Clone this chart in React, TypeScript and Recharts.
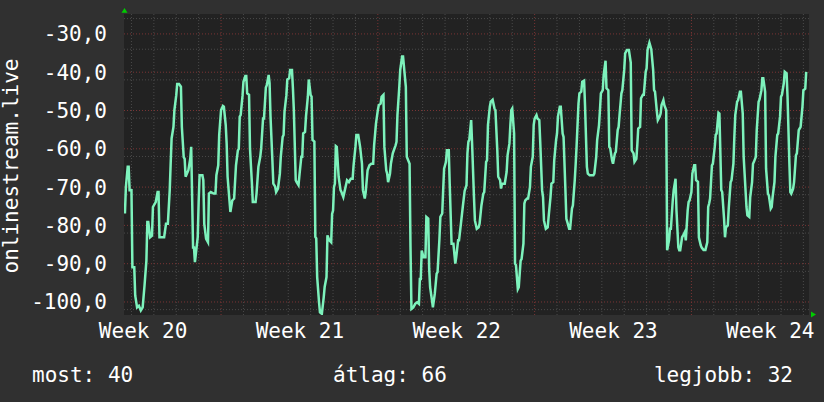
import { CartesianGrid, Line, LineChart, XAxis, YAxis } from "recharts";

// [hours since start, signal]
const samples: [number, number][] = [
  [1,-76.9],[2,-70],[4,-64.7],[5,-64.7],[6,-70.8],[8,-70.8],[9,-90.9],[11,-90.9],[12,-98.3],[14,-101.4],[16,-101],[18,-102.2],[20,-101.4],[22,-95.7],[24,-89.2],[25,-79.1],[26,-79.1],[28,-83.1],[30,-82.7],[31,-75.2],[34,-73.9],[36,-71.3],[37,-71.3],[38,-83.1],[43,-83.1],[45,-79.6],[47,-79.6],[49,-70.8],[50,-63.9],[51,-57.3],[53,-54.3],[54,-49.9],[56,-46],[57,-43.1],[59,-43.1],[61,-43.8],[62,-54.3],[64,-62.2],[65,-62.6],[66,-67.3],[69,-65.6],[71,-62.6],[72,-59.5],[74,-85.8],[75,-85.8],[76,-89.6],[79,-83.1],[80,-73.9],[81,-66.9],[84,-66.9],[85,-68.2],[86,-79.6],[88,-83.5],[90,-84.4],[91,-71.7],[93,-71.3],[96,-71.7],[98,-71.7],[99,-66.9],[101,-64.3],[102,-56.4],[104,-49.9],[106,-48.8],[107,-49],[109,-53.8],[110,-58.6],[111,-67.3],[113,-73.5],[114,-76.5],[116,-73.5],[118,-73],[120,-64.3],[122,-60.4],[123,-60],[124,-51.6],[125,-51.2],[127,-46.2],[128,-42.5],[130,-41],[131,-41],[132,-45.5],[134,-45.9],[135,-59.9],[137,-68.7],[138,-73.9],[141,-73.9],[142,-71.7],[144,-64.7],[146,-62.1],[147,-59.9],[149,-52.1],[150,-52.1],[152,-44],[153,-43.4],[155,-40.7],[156,-42.9],[157,-51.6],[159,-63],[160,-69.1],[162,-69.9],[163,-71.3],[165,-70.4],[167,-66.5],[168,-62.1],[170,-56.9],[171,-56.4],[172,-50.3],[174,-46],[175,-41.9],[177,-41.6],[178,-39.4],[180,-39.4],[181,-44.2],[182,-49.9],[184,-68.2],[185,-68.7],[187,-69.5],[188,-66.9],[190,-62.1],[191,-62.1],[192,-56],[194,-55.6],[195,-51.6],[197,-46.4],[198,-41.9],[200,-46],[201,-46.4],[202,-57.7],[204,-58.1],[205,-83],[206,-83.4],[207,-93.5],[209,-100.1],[210,-102.7],[212,-103.1],[214,-98.8],[215,-96.1],[217,-93.5],[218,-82.6],[220,-83.9],[222,-84.4],[223,-77],[224,-76.1],[225,-70],[226,-69.1],[227,-59.3],[228,-59.5],[230,-67.3],[232,-70.8],[233,-71.3],[235,-72.6],[237,-70.4],[239,-68.2],[241,-68.7],[243,-67.8],[245,-67.8],[246,-64.3],[248,-59.5],[249,-56.4],[251,-56.4],[253,-59.5],[255,-63.9],[256,-70.8],[258,-73],[259,-71.3],[261,-65.6],[263,-64.3],[265,-63.9],[267,-63.9],[268,-59.1],[270,-53.4],[272,-49.9],[273,-48.6],[275,-48.2],[276,-46.4],[278,-45.9],[279,-59.5],[281,-65.6],[282,-66.5],[283,-68.7],[285,-66.5],[286,-63.9],[288,-61.2],[291,-59.1],[292,-58.2],[293,-51.2],[295,-43.8],[296,-39.4],[298,-35.9],[299,-35.9],[301,-41.2],[302,-43.8],[303,-62.1],[306,-63.9],[307,-85.7],[308,-101.8],[310,-101.4],[312,-100.5],[314,-100.1],[316,-100.5],[317,-94],[318,-94],[319,-86.6],[321,-88.3],[323,-88.3],[324,-77.8],[326,-78.2],[327,-91.3],[328,-96.1],[330,-99.6],[331,-101.4],[333,-97.9],[335,-92.6],[336,-92.2],[338,-83.5],[339,-77.8],[341,-76.9],[342,-70.8],[343,-65.2],[345,-63.4],[346,-60.4],[348,-60.4],[349,-69.1],[351,-84.8],[353,-84.8],[355,-90],[356,-88.3],[358,-83.9],[359,-83.9],[361,-79.6],[363,-75.2],[365,-71],[367,-69.5],[368,-61.2],[369,-58.2],[370,-57.7],[372,-52.5],[373,-58.6],[375,-72.6],[376,-78.7],[378,-80.9],[380,-80.5],[381,-79.6],[383,-74.8],[385,-71.7],[386,-71.3],[388,-63.4],[389,-63],[390,-53.8],[392,-49],[393,-47.7],[395,-47.2],[397,-49.5],[398,-49.9],[400,-60.4],[401,-67.3],[403,-68.2],[404,-70.4],[405,-69.1],[408,-69.1],[410,-66],[411,-61.7],[413,-58.6],[414,-53.8],[415,-49.9],[416,-49.5],[418,-56],[419,-90],[420,-90.4],[422,-96.6],[423,-96.1],[425,-89.2],[426,-88.8],[428,-84.8],[429,-74.3],[430,-73.5],[432,-73],[433,-73],[435,-70],[436,-64.7],[438,-62.1],[439,-53.8],[440,-52.1],[442,-51.2],[443,-52.1],[445,-52.5],[446,-58.2],[448,-70.8],[449,-72.6],[450,-78.7],[452,-80.9],[454,-80.5],[455,-77.8],[457,-72.6],[458,-69.1],[460,-68.7],[461,-63],[463,-57.7],[464,-56],[465,-51.6],[467,-49],[468,-49],[470,-56],[471,-56.9],[473,-70.8],[474,-78.3],[475,-79.1],[477,-80.9],[478,-80.9],[480,-75.6],[481,-74.8],[483,-68.2],[484,-63.9],[485,-59.1],[487,-48.2],[488,-45.5],[490,-45.1],[491,-42.5],[493,-42.2],[494,-48.6],[496,-64.7],[497,-66.5],[499,-66.9],[501,-66.9],[503,-66.9],[504,-66.5],[506,-62.1],[507,-57.7],[509,-53.8],[510,-49.9],[511,-45.5],[513,-44.7],[514,-40.7],[516,-37],[517,-44.2],[519,-44.7],[520,-59.5],[521,-59.9],[523,-63],[524,-63.9],[526,-61.2],[527,-60.8],[529,-55.1],[530,-54.3],[531,-51.2],[533,-45.5],[534,-44.7],[536,-39.4],[537,-35.1],[539,-34.2],[541,-34.2],[543,-37.5],[544,-60.4],[546,-61.2],[547,-63.4],[549,-62.6],[550,-59.1],[551,-54.7],[553,-54.3],[554,-46.8],[556,-45.9],[557,-45.9],[559,-39.9],[560,-39],[561,-34.2],[563,-32.3],[565,-34],[567,-39.4],[568,-44.7],[569,-45.1],[571,-50.3],[572,-52.5],[574,-51.6],[575,-50.8],[576,-48.6],[578,-47.3],[579,-48.6],[581,-49.9],[582,-86.5],[584,-83.9],[585,-80.9],[586,-80.9],[588,-73.5],[589,-70.8],[591,-67.8],[592,-76.1],[594,-85.7],[595,-86.5],[596,-86.5],[598,-83.1],[599,-82.7],[601,-81.7],[602,-83.9],[604,-76.1],[605,-73.9],[606,-73.5],[608,-71.3],[609,-66.5],[611,-64.3],[612,-64.3],[613,-68.2],[615,-68.6],[616,-83.1],[618,-85.2],[619,-85.8],[621,-86.4],[623,-86.4],[625,-84.4],[626,-75.2],[627,-74.3],[628,-73],[630,-64.3],[631,-63.9],[633,-59.5],[634,-56.4],[635,-56],[637,-50.6],[638,-50.8],[640,-70.8],[641,-71.3],[643,-78.3],[644,-83.1],[645,-80.5],[647,-80],[648,-75.6],[650,-68.7],[651,-68.2],[653,-63.9],[654,-56.9],[655,-51.2],[657,-47.7],[658,-47.3],[660,-45.1],[661,-45.1],[663,-50.8],[664,-62.1],[665,-66.5],[667,-75.2],[668,-77.4],[670,-77.8],[671,-72.6],[673,-68.7],[674,-63.9],[675,-63.4],[677,-62.1],[678,-55.1],[680,-47.7],[681,-47.1],[683,-44.7],[684,-41.6],[685,-41.6],[687,-45.1],[688,-65.2],[690,-71.7],[691,-72.2],[693,-75.6],[694,-75.2],[695,-72.6],[697,-68.7],[698,-62.1],[700,-56.4],[701,-56],[703,-51.6],[704,-46.4],[705,-45.9],[707,-42.9],[708,-39.9],[710,-40.3],[711,-46.4],[713,-63.9],[714,-71.3],[715,-71.7],[717,-70.4],[718,-68.7],[720,-61.7],[721,-61.2],[723,-55.1],[724,-54.7],[725,-54.3],[727,-49],[728,-44.7],[730,-44.3],[731,-39.9],
];

const weekTicks = [20.5, 188.5, 356.5, 524.5, 692.5];
const weekLabels = ["Week 20", "Week 21", "Week 22", "Week 23", "Week 24"];
const weekLines = [104, 272, 440, 608];
const dayLines = [8, 32, 56, 80, 128, 152, 176, 200, 224, 248, 296, 320, 344, 368, 392, 416, 464, 488, 512, 536, 560, 584, 632, 656, 680, 704, 728];
const yTicks = [-100, -90, -80, -70, -60, -50, -40, -30];
const yMinor = [-102, -98, -96, -94, -92, -88, -86, -84, -82, -78, -76, -74, -72, -68, -66, -64, -62, -58, -56, -54, -52, -48, -46, -44, -42, -38, -36, -34, -32, -28, -26];
const legendItems = [
  { label: "most", value: 40 },
  { label: "átlag", value: 66 },
  { label: "legjobb", value: 32 },
];
const seriesName = "onlinestream.live";

const data = samples.map(([h, v]) => ({ h, v }));
const font = "'DejaVu Sans Mono', monospace";
const tickStyle = { fill: "#ffffff", fontSize: 21, fontFamily: font };

export default function App() {
  return (
    <div style={{ position: "absolute", left: 0, top: 0, width: 824, height: 402, background: "#303030", fontFamily: font, color: "#fff" }}>
      <LineChart width={824} height={402} data={data} margin={{ top: 14, right: 15, bottom: 57, left: 0 }}>
        <CartesianGrid fill="#222222" stroke="#4a4a4a" strokeDasharray="1 2" horizontalValues={yMinor} verticalValues={dayLines} />
        <CartesianGrid stroke="#7a3434" strokeDasharray="1 2" horizontalValues={yTicks} verticalValues={weekLines} />
        <XAxis
          dataKey="h"
          type="number"
          domain={[0, 734]}
          ticks={weekTicks}
          tickFormatter={(v: number) => weekLabels[weekTicks.indexOf(v)]}
          tick={tickStyle}
          tickSize={0}
          tickMargin={8}
          axisLine={false}
          height={30}
          allowDataOverflow
        />
        <YAxis
          type="number"
          domain={[-103.4, -24.8]}
          ticks={yTicks}
          tickFormatter={(v: number) => v.toFixed(1).replace(".", ",")}
          tick={tickStyle}
          tickSize={0}
          tickMargin={17}
          axisLine={false}
          width={124}
          allowDataOverflow
        />
        <Line dataKey="v" type="linear" stroke="#7df2bc" strokeWidth={2.5} dot={false} isAnimationActive={false} />
      </LineChart>
      <svg width={824} height={402} style={{ position: "absolute", left: 0, top: 0, pointerEvents: "none" }}>
        <text transform="translate(18,166) rotate(-90)" textAnchor="middle" fill="#fff" fontSize={21} fontFamily={font}>
          {seriesName}
        </text>
        <polygon points="121.5,12.7 127.5,12.7 124.5,8" fill="#00cc00" />
        <polygon points="811,311.5 811,317.5 816,314.5" fill="#00cc00" />
      </svg>
      <div style={{ position: "absolute", top: 362, left: 32, fontSize: 21, lineHeight: "26px" }}>
        {legendItems[0].label}: {legendItems[0].value}
      </div>
      <div style={{ position: "absolute", top: 362, left: 333, fontSize: 21, lineHeight: "26px" }}>
        {legendItems[1].label}: {legendItems[1].value}
      </div>
      <div style={{ position: "absolute", top: 362, right: 31, fontSize: 21, lineHeight: "26px" }}>
        {legendItems[2].label}: {legendItems[2].value}
      </div>
    </div>
  );
}
